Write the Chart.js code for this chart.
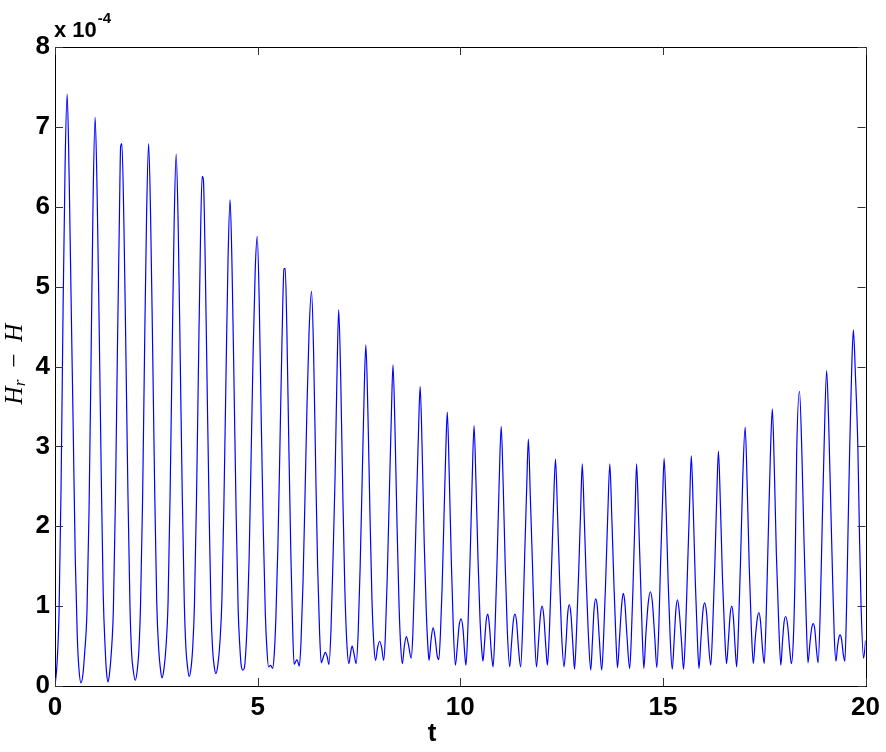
<!DOCTYPE html>
<html>
<head>
<meta charset="utf-8">
<script src="https://cdn.jsdelivr.net/npm/chart.js@4.4.1/dist/chart.umd.min.js"></script>
<style>
  html, body { margin: 0; padding: 0; background: #fff; }
  #wrap { width: 886px; height: 752px; }
</style>
</head>
<body>
<div id="wrap"><canvas id="plot" width="886" height="752"></canvas></div>
<script>
// time samples (t)
const timeVals = [
  0.00, 0.05, 0.10, 0.15, 0.20, 0.25, 0.30, 0.35, 0.40, 0.45, 0.50, 0.55, 0.59, 0.64, 0.69, 0.73, 0.79, 0.84, 0.89, 0.94,
  0.99, 1.04, 1.09, 1.14, 1.19, 1.24, 1.27, 1.31, 1.35, 1.39, 1.44, 1.49, 1.54, 1.59,
  1.62, 1.65, 1.70, 1.75, 1.80, 1.85, 1.89, 1.93, 1.98, 2.03, 2.07, 2.11, 2.16, 2.21, 2.26,
  2.31, 2.36, 2.41, 2.46, 2.51, 2.56, 2.60, 2.64, 2.69, 2.74, 2.79, 2.84, 2.89, 2.94,
  2.99, 3.04, 3.09, 3.14, 3.19, 3.23, 3.27, 3.31, 3.36, 3.40, 3.44, 3.49, 3.54, 3.59,
  3.63, 3.66, 3.71, 3.76, 3.81, 3.85, 3.89, 3.93, 3.97, 4.02, 4.07, 4.12, 4.17, 4.22, 4.27,
  4.32, 4.37, 4.42, 4.47, 4.52, 4.56, 4.59, 4.63, 4.67, 4.71, 4.75, 4.79, 4.84, 4.89, 4.94,
  4.99, 5.04, 5.09, 5.14, 5.19, 5.23, 5.27, 5.32, 5.37, 5.41, 5.45, 5.50, 5.55, 5.60,
  5.65, 5.68, 5.72, 5.77, 5.82, 5.86, 5.90, 5.97, 6.03, 6.07, 6.12, 6.17, 6.22, 6.27,
  6.33, 6.38, 6.43, 6.48, 6.53, 6.57, 6.62, 6.67, 6.72, 6.76, 6.81, 6.86, 6.91, 6.96,
  7.00, 7.05, 7.10, 7.15, 7.20, 7.25, 7.29, 7.33, 7.38, 7.43, 7.48, 7.53, 7.58, 7.63,
  7.67, 7.72, 7.77, 7.82, 7.87, 7.91, 7.96, 8.01, 8.06, 8.11, 8.15, 8.20, 8.25, 8.30,
  8.34, 8.39, 8.44, 8.49, 8.53, 8.57, 8.62, 8.67, 8.72, 8.79, 8.83, 8.87, 8.92, 8.97,
  9.01, 9.06, 9.11, 9.16, 9.20, 9.23, 9.28, 9.33, 9.38, 9.43, 9.47, 9.51, 9.55, 9.60, 9.64,
  9.68, 9.73, 9.78, 9.83, 9.88, 9.92, 9.97, 10.02, 10.07, 10.11, 10.14, 10.19, 10.24, 10.29,
  10.34, 10.39, 10.44, 10.49, 10.53, 10.56, 10.60, 10.64, 10.68, 10.72, 10.77, 10.81, 10.86, 10.91, 10.96,
  11.01, 11.06, 11.11, 11.16, 11.22, 11.26, 11.31, 11.35, 11.39, 11.44, 11.49, 11.54, 11.59, 11.64,
  11.68, 11.73, 11.78, 11.83, 11.88, 11.93, 11.98, 12.02, 12.06, 12.11, 12.15, 12.20, 12.25, 12.30,
  12.35, 12.40, 12.45, 12.50, 12.56, 12.61, 12.65, 12.69, 12.73, 12.78, 12.82, 12.87, 12.92, 12.97,
  13.01, 13.06, 13.11, 13.16, 13.22, 13.26, 13.30, 13.34, 13.38, 13.43, 13.49, 13.54, 13.59, 13.64,
  13.69, 13.74, 13.79, 13.84, 13.88, 13.93, 13.98, 14.02, 14.06, 14.11, 14.18, 14.22, 14.26, 14.31,
  14.35, 14.40, 14.45, 14.49, 14.53, 14.58, 14.64, 14.69, 14.74, 14.80, 14.85, 14.90, 14.94, 14.99,
  15.03, 15.08, 15.13, 15.18, 15.23, 15.28, 15.32, 15.36, 15.40, 15.46, 15.51, 15.56, 15.61, 15.66,
  15.70, 15.75, 15.80, 15.85, 15.89, 15.94, 15.99, 16.03, 16.08, 16.13, 16.18, 16.23, 16.28, 16.33,
  16.37, 16.42, 16.47, 16.52, 16.57, 16.62, 16.66, 16.70, 16.74, 16.78, 16.82, 16.87, 16.92, 16.97,
  17.03, 17.08, 17.13, 17.18, 17.23, 17.28, 17.33, 17.37, 17.41, 17.46, 17.50, 17.55, 17.60, 17.65,
  17.70, 17.75, 17.80, 17.86, 17.91, 17.95, 17.99, 18.03, 18.08, 18.13, 18.17, 18.22, 18.26, 18.30,
  18.37, 18.43, 18.48, 18.53, 18.58, 18.63, 18.67, 18.71, 18.75, 18.79, 18.83, 18.88, 18.93, 18.98,
  19.04, 19.09, 19.14, 19.19, 19.23, 19.27, 19.31, 19.34, 19.37, 19.41, 19.45, 19.49, 19.53, 19.57, 19.61, 19.66,
  19.70, 19.75, 19.81, 19.85, 19.89, 19.95, 19.98, 20.00
];

// H_r - H, in units of 1e-4
const energyGap = [
  0.00, 0.28, 0.92, 2.50, 4.75, 6.55, 7.41, 6.35, 4.75, 3.20, 1.60, 0.62, 0.22, 0.04, 0.15, 0.40, 0.95, 2.20, 4.10, 6.10,
  7.12, 6.15, 4.50, 2.70, 1.15, 0.45, 0.18, 0.05, 0.18, 0.42, 0.95, 2.30, 4.20, 5.90,
  6.76, 6.79, 5.80, 4.15, 2.40, 1.00, 0.42, 0.20, 0.07, 0.20, 0.45, 1.00, 2.30, 4.20, 5.90,
  6.79, 5.85, 4.20, 2.45, 1.05, 0.45, 0.22, 0.10, 0.22, 0.50, 1.05, 2.40, 4.15, 5.80,
  6.66, 5.75, 4.10, 2.40, 1.05, 0.48, 0.24, 0.12, 0.24, 0.50, 1.00, 2.30, 4.00, 5.60,
  6.38, 6.35, 5.20, 3.55, 2.00, 0.95, 0.45, 0.24, 0.155, 0.27, 0.55, 1.10, 2.35, 3.90, 5.35,
  6.09, 5.20, 3.70, 2.15, 0.95, 0.50, 0.28, 0.20, 0.22, 0.45, 0.90, 1.60, 2.90, 4.20, 5.20,
  5.63, 4.80, 3.30, 1.95, 0.90, 0.45, 0.24, 0.26, 0.22, 0.40, 0.85, 1.75, 3.00, 4.30,
  5.22, 5.23, 4.50, 3.00, 1.65, 0.80, 0.27, 0.33, 0.25, 0.55, 1.30, 2.40, 3.55, 4.45,
  4.94, 4.20, 2.80, 1.50, 0.65, 0.29, 0.36, 0.42, 0.36, 0.27, 0.70, 1.60, 2.60, 3.95,
  4.71, 3.85, 2.45, 1.25, 0.55, 0.28, 0.40, 0.50, 0.40, 0.28, 0.65, 1.50, 2.60, 3.70,
  4.27, 3.45, 2.20, 1.10, 0.50, 0.32, 0.48, 0.56, 0.48, 0.32, 0.60, 1.40, 2.40, 3.40,
  4.02, 3.20, 2.00, 1.00, 0.50, 0.28, 0.50, 0.62, 0.52, 0.35, 0.65, 1.30, 2.30, 3.20,
  3.75, 2.95, 1.80, 0.95, 0.50, 0.32, 0.58, 0.73, 0.60, 0.38, 0.33, 0.65, 1.20, 2.15, 2.90,
  3.43, 2.60, 1.55, 0.70, 0.26, 0.45, 0.75, 0.84, 0.70, 0.40, 0.26, 0.75, 1.55, 2.50,
  3.26, 2.50, 1.55, 0.80, 0.45, 0.31, 0.55, 0.82, 0.90, 0.75, 0.40, 0.24, 0.75, 1.60, 2.55,
  3.25, 2.50, 1.50, 0.70, 0.24, 0.50, 0.82, 0.90, 0.80, 0.45, 0.24, 0.75, 1.65, 2.50,
  3.09, 2.35, 1.55, 0.70, 0.24, 0.55, 0.90, 1.00, 0.88, 0.50, 0.26, 0.70, 1.45, 2.25,
  2.84, 2.15, 1.35, 0.65, 0.24, 0.55, 0.90, 1.02, 0.90, 0.50, 0.21, 0.70, 1.40, 2.20,
  2.78, 2.10, 1.30, 0.65, 0.20, 0.55, 0.95, 1.09, 1.00, 0.60, 0.20, 0.65, 1.35, 2.15,
  2.78, 2.10, 1.30, 0.60, 0.23, 0.60, 1.00, 1.16, 1.05, 0.65, 0.22, 0.60, 1.20, 2.10,
  2.78, 2.10, 1.30, 0.65, 0.22, 0.65, 1.05, 1.18, 1.05, 0.60, 0.23, 0.75, 1.50, 2.30,
  2.85, 2.20, 1.30, 0.60, 0.21, 0.60, 0.95, 1.08, 0.95, 0.55, 0.21, 0.70, 1.50, 2.30,
  2.88, 2.20, 1.30, 0.60, 0.22, 0.60, 0.95, 1.04, 0.90, 0.50, 0.26, 0.75, 1.50, 2.40,
  2.94, 2.25, 1.35, 0.70, 0.28, 0.60, 0.90, 1.00, 0.85, 0.50, 0.24, 0.80, 1.65, 2.60,
  3.24, 2.50, 1.50, 0.75, 0.28, 0.60, 0.85, 0.92, 0.80, 0.45, 0.28, 0.90, 1.90, 2.85,
  3.47, 2.70, 1.65, 0.75, 0.26, 0.55, 0.80, 0.87, 0.75, 0.45, 0.28, 0.60, 1.40, 2.90,
  3.69, 2.90, 1.85, 0.95, 0.29, 0.55, 0.72, 0.78, 0.70, 0.45, 0.29, 0.90, 2.00, 3.05,
  3.95, 3.30, 2.30, 1.30, 0.60, 0.31, 0.50, 0.60, 0.64, 0.58, 0.40, 0.31, 0.95, 2.00, 3.00, 4.00,
  4.46, 3.90, 3.00, 1.90, 1.00, 0.35, 0.45, 0.57
];

const xTicks = [0, 5, 10, 15, 20];
const yTicks = [0, 1, 2, 3, 4, 5, 6, 7, 8];

const tickFont = { family: '"Liberation Sans", Arial, Helvetica, sans-serif', size: 26, weight: 'bold' };

// MATLAB-like frame: full box, ticks pointing inward, exponent and axis labels
const matlabFrame = {
  id: 'matlabFrame',
  afterDraw(chart) {
    const ctx = chart.ctx;
    const a = chart.chartArea;
    const xs = chart.scales.x, ys = chart.scales.y;
    ctx.save();
    ctx.strokeStyle = '#000';
    ctx.lineWidth = 1;
    ctx.strokeRect(Math.round(a.left) + 0.5, Math.round(a.top) + 0.5,
                   Math.round(a.right - a.left), Math.round(a.bottom - a.top));

    ctx.strokeStyle = '#333';
    ctx.beginPath();
    const tl = 8;
    xTicks.forEach(v => {
      const px = Math.round(xs.getPixelForValue(v)) + 0.5;
      ctx.moveTo(px, a.bottom); ctx.lineTo(px, a.bottom - tl);
      ctx.moveTo(px, a.top); ctx.lineTo(px, a.top + tl);
    });
    yTicks.forEach(v => {
      const py = Math.round(ys.getPixelForValue(v)) + 0.5;
      ctx.moveTo(a.left, py); ctx.lineTo(a.left + tl, py);
      ctx.moveTo(a.right, py); ctx.lineTo(a.right - tl, py);
    });
    ctx.stroke();

    // exponent label
    ctx.fillStyle = '#000';
    ctx.textBaseline = 'alphabetic';
    ctx.textAlign = 'left';
    ctx.font = 'bold 22px "Liberation Sans", Arial, sans-serif';
    ctx.fillText('x 10', a.left - 1, 37);
    const w = ctx.measureText('x 10').width;
    ctx.font = 'bold 15px "Liberation Sans", Arial, sans-serif';
    ctx.fillText('-4', a.left - 1 + w + 1, 23);

    // x label
    ctx.font = 'bold 26px "Liberation Sans", Arial, sans-serif';
    ctx.textAlign = 'center';
    ctx.fillText('t', 432, 741);

    // y label: H_r - H (rotated)
    ctx.translate(15, 364);
    ctx.rotate(-Math.PI / 2);
    const big = 'italic 25px "Liberation Serif", "Times New Roman", serif';
    const small = 'italic 17px "Liberation Serif", "Times New Roman", serif';
    const minusFont = '25px "Liberation Serif", "Times New Roman", serif';
    ctx.textAlign = 'left';
    ctx.textBaseline = 'middle';
    ctx.font = big; const wH = ctx.measureText('H').width;
    ctx.font = small; const wr = ctx.measureText('r').width;
    ctx.font = minusFont; const wm = ctx.measureText('\u2212').width;
    const gap = 12;
    const total = wH + wr + gap + wm + gap + wH;
    let cx = -total / 2;
    ctx.font = big; ctx.fillText('H', cx, 0); cx += wH;
    ctx.font = small; ctx.fillText('r', cx, 6); cx += wr + gap;
    ctx.font = minusFont; ctx.fillText('\u2212', cx, 0); cx += wm + gap;
    ctx.font = big; ctx.fillText('H', cx, 0);
    ctx.restore();
  }
};

const points = timeVals.map((t, i) => ({ x: t, y: energyGap[i] }));

new Chart(document.getElementById('plot'), {
  type: 'line',
  data: {
    datasets: [{
      data: points,
      borderColor: '#0000ff',
      borderWidth: 1.2,
      pointRadius: 0,
      fill: false,
      cubicInterpolationMode: 'monotone'
    }]
  },
  options: {
    responsive: false,
    animation: false,
    devicePixelRatio: 1,
    parsing: false,
    layout: { padding: { top: 47, right: 20, left: 0, bottom: 0 } },
    plugins: { legend: { display: false }, tooltip: { enabled: false } },
    scales: {
      x: {
        type: 'linear',
        min: 0, max: 20,
        afterBuildTicks: s => { s.ticks = xTicks.map(v => ({ value: v })); },
        afterFit: s => { s.height = 66; },
        grid: { display: false, drawTicks: false },
        border: { display: false },
        ticks: { font: tickFont, color: '#000', padding: 6, maxRotation: 0, autoSkip: false,
                  callback: v => String(v) }
      },
      y: {
        min: 0, max: 8,
        afterBuildTicks: s => { s.ticks = yTicks.map(v => ({ value: v })); },
        afterFit: s => { s.width = 55; },
        grid: { display: false, drawTicks: false },
        border: { display: false },
        ticks: { font: tickFont, color: '#000', padding: 5, autoSkip: false,
                 callback: v => String(v) }
      }
    }
  },
  plugins: [matlabFrame]
});
</script>
</body>
</html>
